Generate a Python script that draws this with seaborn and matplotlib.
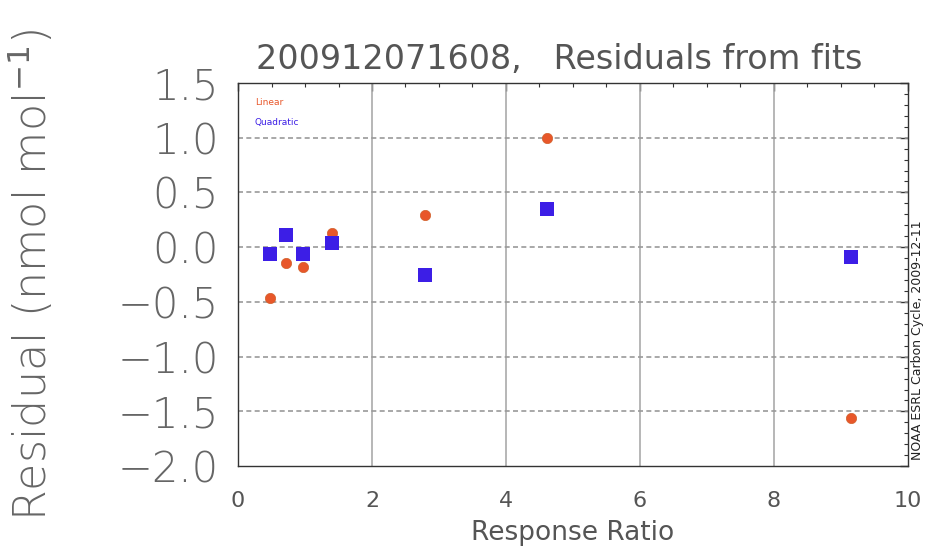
import matplotlib
matplotlib.use("Agg")
import matplotlib.pyplot as plt
from matplotlib.ticker import MultipleLocator
import seaborn as sns
import pandas as pd

ratio = [0.48, 0.72, 0.97, 1.40, 2.79, 4.61, 9.16]
linear_resid = [-0.46, -0.14, -0.18, 0.13, 0.29, 1.00, -1.56]
quad_resid = [-0.06, 0.11, -0.06, 0.04, -0.25, 0.35, -0.09]
series_names = ["Linear", "Quadratic"]
y_ticks = [-2.0, -1.5, -1.0, -0.5, 0.0, 0.5, 1.0, 1.5]
x_ticks = [0, 2, 4, 6, 8, 10]

sns.set_style("white")
plt.rcParams['font.family'] = ['DejaVu Sans']

df_lin = pd.DataFrame({"x": ratio, "y": linear_resid})
df_quad = pd.DataFrame({"x": ratio, "y": quad_resid})

fig = plt.figure(figsize=(9.3, 5.53), dpi=100)
ax = fig.add_axes([0.256, 0.157, 0.720, 0.693])

orange = "#e8572a"
blue = "#3c1ee6"

sns.scatterplot(data=df_lin, x="x", y="y", ax=ax, color=orange, marker="o",
                s=55, edgecolor="#d0602a", linewidth=0.5, zorder=3)
sns.scatterplot(data=df_quad, x="x", y="y", ax=ax, color=blue, marker="s",
                s=110, edgecolor=blue, linewidth=0, zorder=4)

ax.set_xlim(0, 10)
ax.set_ylim(-2.0, 1.5)
ax.set_xticks(x_ticks)
ax.set_yticks(y_ticks)
ax.xaxis.set_minor_locator(MultipleLocator(0.5))
ax.yaxis.set_minor_locator(MultipleLocator(0.1))
ax.set_xticklabels([str(v) for v in x_ticks], fontsize=16, color="#555555")
ax.set_yticklabels([f"{v:.1f}".replace("-", "\u2212") for v in y_ticks],
                   fontsize=30, color="#666666", fontweight="light")

ax.tick_params(axis="both", which="major", direction="in", length=6, width=1,
               top=True, right=True, color="#333333")
ax.tick_params(axis="both", which="minor", direction="in", length=3, width=0.8,
               top=True, right=True, color="#333333")
ax.tick_params(axis="y", pad=14)
ax.tick_params(axis="x", pad=18)

for v in x_ticks[1:-1]:
    ax.axvline(v, color="#aaaaaa", lw=1.2, zorder=1)
for v in y_ticks[1:-1]:
    ax.axhline(v, color="#999999", lw=1.2, ls=(0, (3, 2)), zorder=1)

for sp in ax.spines.values():
    sp.set_color("#333333")
    sp.set_linewidth(1.0)

ax.set_xlabel("Response Ratio", fontsize=19, color="#555555", labelpad=6)
ax.set_ylabel("Residual (nmol mol$^{-1}$)", fontsize=32, color="#666666",
              fontweight="light")
ax.yaxis.set_label_coords(-0.272, 0.5)
ax.set_title("200912071608,   Residuals from fits", fontsize=24, color="#555555",
             pad=10, x=0.48)

ax.text(0.025, 0.948, series_names[0], transform=ax.transAxes, fontsize=6.5,
        color=orange, va="center")
ax.text(0.025, 0.898, series_names[1], transform=ax.transAxes, fontsize=6.5,
        color=blue, va="center")

fig.text(0.987, 0.385, "NOAA ESRL Carbon Cycle, 2009-12-11", rotation=90,
         fontsize=9, color="#222222", ha="center", va="center")

ax.set_facecolor("white")
fig.patch.set_facecolor("white")
fig.savefig("out.png", dpi=100, facecolor="white")
